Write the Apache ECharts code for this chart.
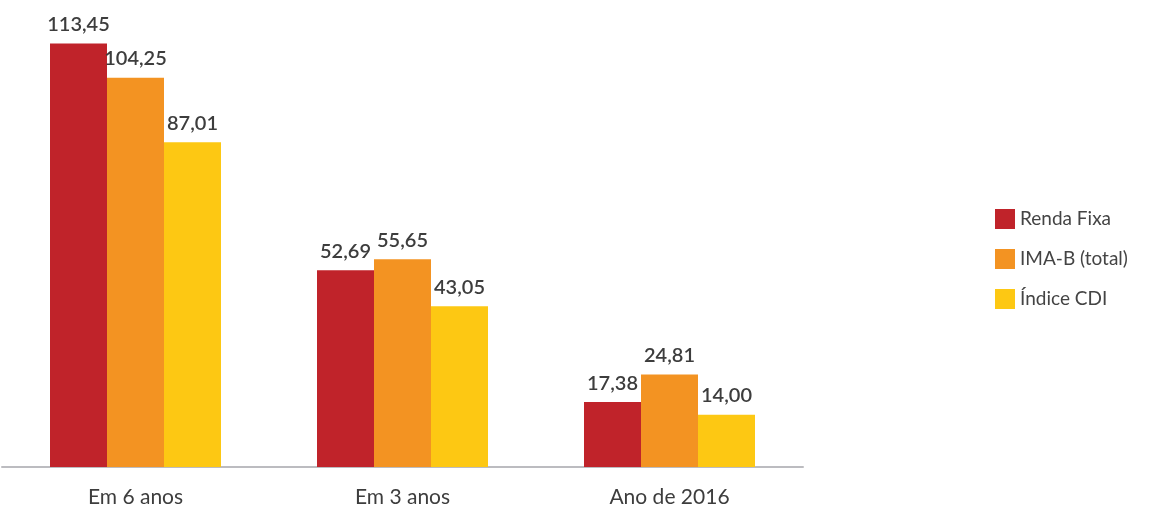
<!doctype html>
<html lang="pt">
<head>
    <meta charset="utf-8">
    <title>Rentabilidade</title>
    <script src="https://cdn.jsdelivr.net/npm/echarts@6.0.0/dist/echarts.min.js"></script>
</head>
<body style="margin:0">
    <div id="main" style="width:1159px; height:508px;"></div>
    <script type="text/javascript">
        var categories = ['Em 6 anos', 'Em 3 anos', 'Ano de 2016'];
        var rendaFixa = [113.45, 52.69, 17.38];
        var imaB = [104.25, 55.65, 24.81];
        var cdi = [87.01, 43.05, 14.00];

        var chart = echarts.init(document.getElementById('main'));

        function fmt(p) {
            return p.value.toFixed(2).replace('.', ',');
        }

        var labelStyle = {
            show: true,
            position: 'top',
            distance: 9,
            formatter: fmt,
            fontFamily: 'Lato',
            fontSize: 20,
            fontWeight: 600,
            color: '#3d3d3d'
        };

        function bar(name, data, color) {
            return {
                name: name,
                type: 'bar',
                data: data,
                barWidth: 57,
                barGap: '0%',
                itemStyle: { color: color },
                label: labelStyle
            };
        }

        var option = {
            animation: false,
            legend: {
                orient: 'vertical',
                left: 990,
                top: 204,
                itemWidth: 20,
                itemHeight: 20,
                itemGap: 20,
                icon: 'rect',
                textStyle: { fontFamily: 'Lato', fontSize: 19, color: '#444' }
            },
            grid: { left: 2, right: 356, top: 19, bottom: 41 },
            xAxis: {
                type: 'category',
                data: categories,
                axisTick: { show: false },
                axisLine: { lineStyle: { color: '#bcbcc0', width: 2 } },
                axisLabel: { margin: 20, fontFamily: 'Lato', fontSize: 21, color: '#3d3d3d' }
            },
            yAxis: {
                type: 'value',
                min: 0,
                max: 120,
                show: false
            },
            series: [
                bar('Renda Fixa', rendaFixa, '#c0232a'),
                bar('IMA-B (total)', imaB, '#f39322'),
                bar('Índice CDI', cdi, '#fdc813')
            ]
        };

        chart.setOption(option);
    </script>
</body>
</html>
